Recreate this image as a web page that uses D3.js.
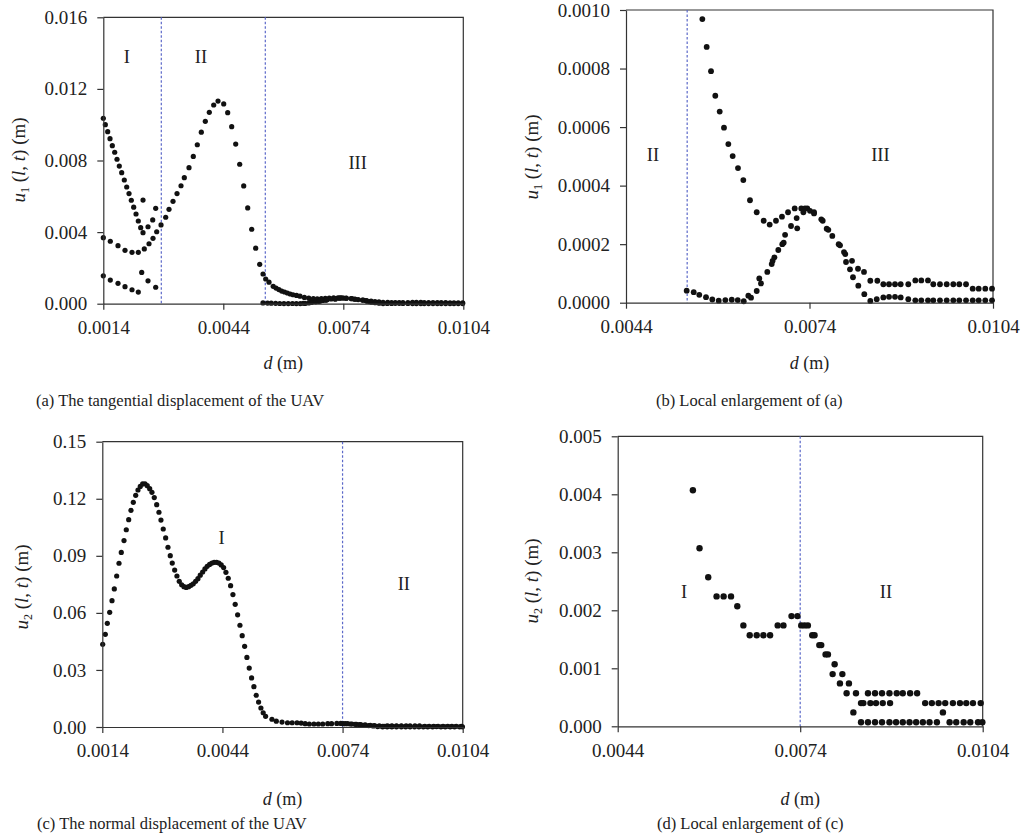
<!DOCTYPE html>
<html>
<head>
<meta charset="utf-8">
<script src="https://cdn.jsdelivr.net/npm/d3@7"></script>
<style>
  body { margin: 0; background: #fff; }
  svg text { font-family: "Liberation Serif", "Times New Roman", serif; fill: #222; }
</style>
</head>
<body>
<div id="chart"></div>
<script>
// u1(l,t) vs d, one array per branch of dots
// [d (m), u1 (m)]
var u1Top = [[0.0014,0.01036],[0.00145,0.0100],[0.00151,0.00961],[0.001568,0.00922],[0.001625,0.00883],
  [0.001685,0.00846],[0.001743,0.00807],[0.0018,0.00769],[0.00186,0.00732],[0.001925,0.00691],
  [0.001985,0.00652],[0.002043,0.00615],[0.0021,0.00578],[0.00216,0.00539],[0.002218,0.00501],
  [0.002275,0.00462],[0.002335,0.00425],[0.002393,0.00397]];
var u1Jump = [[0.002393,0.00579],[0.002518,0.0043],[0.002635,0.00468],[0.00271,0.00533]];
var u1Low = [[0.0014,0.00156],[0.001575,0.00132],[0.001768,0.00114],[0.001943,0.00095],[0.002118,0.00078],
  [0.002275,0.00065],[0.00236,0.00175],[0.002518,0.00128],[0.00271,0.00092]];
var u1Hump = [[0.0014,0.00369],[0.001575,0.00349],[0.001768,0.00324],[0.001943,0.00298],[0.002118,0.00287],
  [0.002275,0.00287],[0.002425,0.00306],[0.002543,0.00335],[0.002643,0.00365],[0.002735,0.00402],
  [0.002843,0.0044],[0.00296,0.00483],[0.003043,0.00527],[0.003143,0.00572],[0.003243,0.00615],
  [0.003343,0.00659],[0.003425,0.00704],[0.003543,0.0076],[0.00365,0.00823],[0.00375,0.00888],
  [0.00385,0.00958],[0.00395,0.01019],[0.00405,0.01069],[0.00416,0.0111],[0.004268,0.01132],
  [0.00441,0.01116],[0.00451,0.01067],[0.00461,0.00989],[0.00471,0.00892],[0.00481,0.00779],
  [0.00491,0.00658],[0.00501,0.00535],[0.00511,0.00416],[0.00521,0.0031],[0.00531,0.0022]];
var u1TailUp = [[0.005393,0.00166],[0.00546,0.00138],[0.005543,0.0012],
  [0.005648,0.000969],[0.005719,0.000874],[0.00579,0.000791],[0.00586,0.000707],[0.005932,0.000653],
  [0.006002,0.000598],[0.006073,0.000542],[0.006144,0.000501],[0.006231,0.00046],[0.006318,0.000419],
  [0.006427,0.00035],[0.006537,0.000309],[0.006651,0.00028],[0.006749,0.000267],[0.006852,0.00028],
  [0.00695,0.000294],[0.007049,0.000309],[0.007158,0.000322],[0.007266,0.000322],[0.007364,0.000322],
  [0.007474,0.000309],[0.007593,0.000285],[0.007681,0.000253],[0.007773,0.000228],[0.007877,0.0002],
  [0.007964,0.000173],[0.008095,0.000143],[0.008193,0.000116],[0.008291,0.000105],[0.008394,0.000075],
  [0.008509,0.000075],[0.008607,0.000063],[0.0087,0.000063],[0.008798,0.000063],[0.008891,0.000063],
  [0.009015,0.000063],[0.00913,0.000076],[0.009228,0.000076],[0.009337,0.000076],[0.009424,0.000063],
  [0.009533,0.000063],[0.009643,0.000063],[0.009751,0.000063],[0.009849,0.000063],[0.009959,0.000063],
  [0.010068,0.000048],[0.010166,0.000048],[0.010274,0.000048],[0.010384,0.000048]];
var u1TailLow = [[0.005392,0.000041],[0.005507,0.000036],[0.005598,0.000027],[0.005708,0.000019],
  [0.005811,0.000011],[0.005916,0.000007],[0.006024,0.000009],[0.006129,0.00001],[0.006227,0.000009],
  [0.006325,0.000005],[0.0064,0.000024],[0.006444,0.000017],[0.006537,0.00004],[0.006579,0.000083],
  [0.006607,0.000066],[0.00671,0.000105],[0.006782,0.000132],[0.006797,0.000143],[0.006826,0.000155],
  [0.00689,0.00018],[0.006955,0.0002],[0.006978,0.000205],[0.007001,0.000232],[0.007098,0.000262],
  [0.00719,0.000289],[0.007199,0.000254],[0.0073,0.000309],[0.007326,0.000322],[0.007408,0.000314],
  [0.007474,0.000305],[0.007616,0.00028],[0.007708,0.000249],[0.007899,0.000196],[0.007985,0.000166],
  [0.007997,0.000139],[0.008062,0.000114],[0.008111,0.000087],[0.008198,0.000058],[0.008296,0.000029],
  [0.008394,0.000006],[0.008499,0.000012],[0.008607,0.000018],[0.0087,0.00002],[0.008798,0.00002],
  [0.008891,0.000018],[0.009015,0.000012],[0.00913,0.000008],[0.009228,0.000008],[0.009337,0.000008],
  [0.009424,0.000008],[0.009533,0.000008],[0.009643,0.000008],[0.009751,0.000008],[0.009849,0.000008],
  [0.009959,0.000008],[0.010068,0.000008],[0.010166,0.000008],[0.010274,0.000008],[0.010384,0.000008]];

// u2(l,t) vs d  [d (m), u2 (m)]
var u2Main = [[0.00141,0.0435],[0.001475,0.0487],[0.001525,0.0545],[0.001585,0.0603],[0.001642,0.0664],
  [0.0017,0.0726],[0.001759,0.0794],[0.001817,0.0861],[0.001874,0.0918],[0.001942,0.098],
  [0.001999,0.1037],[0.002059,0.109],[0.002116,0.1139],[0.002174,0.1181],[0.002234,0.1218],
  [0.002291,0.1246],[0.002348,0.1265],[0.002408,0.1278],[0.002466,0.1279],[0.002523,0.1269],
  [0.002583,0.1253],[0.00264,0.1234],[0.002698,0.1206],[0.002758,0.1169],[0.002815,0.1129],
  [0.002865,0.1088],[0.002922,0.1041],[0.002982,0.0994],[0.00304,0.0945],[0.003097,0.0901],
  [0.003147,0.0862],[0.003207,0.0825],[0.003264,0.0794],[0.003322,0.0766],[0.003382,0.0748],
  [0.003439,0.0738],[0.003496,0.0734],[0.003556,0.0738],[0.003614,0.0745],[0.003671,0.0753],
  [0.003731,0.0766],[0.003788,0.078],[0.003846,0.0798],[0.003906,0.0815],[0.003963,0.0831],
  [0.00402,0.0845],[0.00408,0.0855],[0.004138,0.0862],[0.004195,0.0866],[0.004255,0.0866],
  [0.004312,0.0862],[0.00437,0.0852],[0.00443,0.0838],[0.004487,0.0813],[0.004545,0.0782],
  [0.004604,0.0743],[0.004662,0.0696],[0.004719,0.0645],[0.004779,0.059],[0.004837,0.0535],
  [0.004894,0.048],[0.004954,0.0424],[0.005011,0.0366],[0.005069,0.031],[0.005128,0.0258],
  [0.005186,0.0212],[0.005243,0.0167],[0.005303,0.0131],[0.005361,0.0100],[0.005418,0.0075],
  [0.005478,0.0056]];
var u2Tail = [[0.005636,0.00407],[0.005745,0.00307],[0.005888,0.00257],[0.006025,0.00224],[0.006141,0.00224],
  [0.006263,0.00224],[0.006366,0.00207],[0.006466,0.00174],[0.00657,0.00157],[0.006685,0.00157],
  [0.006795,0.00157],[0.006905,0.00157],[0.00703,0.00174],[0.007125,0.00174],[0.007257,0.0019],
  [0.007355,0.0019],[0.007417,0.00174],[0.007471,0.00174],[0.007526,0.00174],[0.007598,0.00157],
  [0.007636,0.00157],[0.007714,0.0014],[0.007746,0.0014],[0.007817,0.00124],[0.007856,0.00124],
  [0.007933,0.0009],[0.007966,0.00107],[0.008053,0.00074],[0.008093,0.0009],[0.008163,0.00057],
  [0.008201,0.00074],[0.008274,0.00024],[0.008317,0.00057]];
var u2RowHigh = [[0.008514,0.00057],[0.00863,0.00057],[0.008745,0.00057],[0.008867,0.00057],
  [0.008987,0.00057],[0.009086,0.00057],[0.009207,0.00057],[0.009322,0.00057]];
var u2RowMid = [[0.0084,0.0004],[0.008438,0.0004],[0.008554,0.0004],[0.008646,0.0004],[0.008757,0.0004],
  [0.008877,0.0004],[0.009454,0.0004],[0.009564,0.0004],[0.009675,0.0004],[0.009784,0.0004],
  [0.00991,0.0004],[0.010026,0.0004],[0.01013,0.0004],[0.01024,0.0004],[0.010367,0.0004],[0.009746,0.00024]];
var u2RowLow = [[0.0084,0.00007],[0.008514,0.00007],[0.00863,0.00007],[0.008745,0.00007],[0.008867,0.00007],
  [0.008976,0.00007],[0.009086,0.00007],[0.009197,0.00007],[0.009306,0.00007],[0.009416,0.00007],
  [0.009526,0.00007],[0.009647,0.00007],[0.009856,0.00007],[0.009965,0.00007],[0.010087,0.00007],
  [0.010196,0.00007],[0.010323,0.00007],[0.010394,0.00007]];

var xTicksFull = [0.0014, 0.0044, 0.0074, 0.0104];
var xTicksZoom = [0.0044, 0.0074, 0.0104];
var yTicksA = [0, 0.004, 0.008, 0.012, 0.016];
var yTicksB = [0, 0.0002, 0.0004, 0.0006, 0.0008, 0.0010];
var yTicksC = [0, 0.03, 0.06, 0.09, 0.12, 0.15];
var yTicksD = [0, 0.001, 0.002, 0.003, 0.004, 0.005];

var u1All = [u1Top, u1Jump, u1Low, u1Hump, u1TailUp, u1TailLow];
var u2All = [u2Main, u2Tail, u2RowHigh, u2RowMid, u2RowLow];

var svg = d3.select("#chart").append("svg")
  .attr("width", 1024)
  .attr("height", 835);

svg.append("rect").attr("width", 1024).attr("height", 835).attr("fill", "#fff");

function drawPanel(p) {
  var g = svg.append("g");
  var x = d3.scaleLinear().domain(p.xDomain).range([p.left, p.right]);
  var y = d3.scaleLinear().domain([p.yTicks[0], p.yTicks[p.yTicks.length - 1]]).range([p.bottom, p.top]);

  // box: top and right edges
  g.append("path")
    .attr("d", "M" + p.left + "," + p.top + "H" + p.right + "V" + p.bottom)
    .attr("fill", "none")
    .attr("stroke", "#333")
    .attr("stroke-width", 1.2);

  // region boundaries
  g.selectAll(".divider")
    .data(p.dividers)
    .enter()
    .append("line")
    .attr("x1", d => x(d)).attr("x2", d => x(d))
    .attr("y1", p.top).attr("y2", p.bottom)
    .attr("stroke", "#5b68c9")
    .attr("stroke-width", 1.2)
    .attr("stroke-dasharray", "2.5,2");

  // dots, only the ones inside this panel's window
  var yMax = y.domain()[1];
  p.series.forEach(function(s) {
    var pts = s.filter(d => d[0] >= p.xDomain[0] - 1e-7 && d[0] <= p.xDomain[1] + 1e-7 && d[1] <= yMax);
    g.selectAll(null)
      .data(pts)
      .enter()
      .append("circle")
      .attr("cx", d => x(d[0]))
      .attr("cy", d => y(d[1]))
      .attr("r", p.r)
      .attr("fill", "#111");
  });

  var xAxis = g.append("g")
    .attr("transform", "translate(0," + p.bottom + ")")
    .call(d3.axisBottom(x).tickValues(p.xTicks).tickFormat(d3.format(".4f"))
      .tickSize(6).tickSizeOuter(0).tickPadding(11));
  var yAxis = g.append("g")
    .attr("transform", "translate(" + p.left + ",0)")
    .call(d3.axisLeft(y).tickValues(p.yTicks).tickFormat(d3.format(p.yFormat))
      .tickSize(6).tickSizeOuter(0).tickPadding(10));
  [xAxis, yAxis].forEach(function(a) {
    a.select(".domain").attr("stroke", "#333").attr("stroke-width", 1.2);
    a.selectAll(".tick line").attr("stroke", "#333").attr("stroke-width", 1.2);
    a.selectAll(".tick text")
      .style("font-family", '"Liberation Serif", serif')
      .style("font-size", "19px")
      .attr("fill", "#222");
  });

  // region numerals
  g.selectAll(".region")
    .data(p.regions)
    .enter()
    .append("text")
    .attr("x", d => x(d.d))
    .attr("y", d => y(d.u))
    .attr("text-anchor", "middle")
    .attr("dominant-baseline", "central")
    .style("font-size", "18.5px")
    .text(d => d.label);

  // x title
  var xt = g.append("text")
    .attr("x", (p.left + p.right) / 2)
    .attr("y", p.xTitleY)
    .attr("text-anchor", "middle")
    .style("font-size", "18px");
  xt.append("tspan").attr("font-style", "italic").text("d");
  xt.append("tspan").text(" (m)");

  // y title
  var yt = g.append("text")
    .attr("transform", "translate(" + p.yTitleX + "," + p.yTitleY + ") rotate(-90)")
    .attr("text-anchor", "middle")
    .style("font-size", "19px");
  yt.append("tspan").attr("font-style", "italic").text("u");
  yt.append("tspan").attr("dy", 4).style("font-size", "12px").text(p.sub);
  yt.append("tspan").attr("dy", -4).text(" (");
  yt.append("tspan").attr("font-style", "italic").text("l");
  yt.append("tspan").text(", ");
  yt.append("tspan").attr("font-style", "italic").text("t");
  yt.append("tspan").text(") (m)");

  // caption
  g.append("text")
    .attr("x", p.capX)
    .attr("y", p.capY)
    .style("font-size", "16.5px")
    .text(p.caption);
}

drawPanel({
  left: 103.3, right: 463.3, top: 17.3, bottom: 303.7,
  xDomain: [0.0014, 0.0104], xTicks: xTicksFull, yTicks: yTicksA, yFormat: ".3f",
  dividers: [0.00285, 0.00545], series: u1All, r: 2.6,
  regions: [{label: "I", d: 0.00199, u: 0.0138}, {label: "II", d: 0.00384, u: 0.0138},
            {label: "III", d: 0.00776, u: 0.00784}],
  xTitleY: 369, yTitleX: 25, yTitleY: 160, sub: "1",
  caption: "(a) The tangential displacement of the UAV", capX: 36, capY: 406
});

drawPanel({
  left: 626, right: 993, top: 10, bottom: 302.7,
  xDomain: [0.0044, 0.0104], xTicks: xTicksZoom, yTicks: yTicksB, yFormat: ".4f",
  dividers: [0.0054], series: u1All, r: 2.9,
  regions: [{label: "II", d: 0.00484, u: 0.000504}, {label: "III", d: 0.00856, u: 0.000504}],
  xTitleY: 369, yTitleX: 538, yTitleY: 157, sub: "1",
  caption: "(b) Local enlargement of (a)", capX: 656, capY: 406
});

drawPanel({
  left: 102.3, right: 462.7, top: 441.7, bottom: 727,
  xDomain: [0.0014, 0.0104], xTicks: xTicksFull, yTicks: yTicksC, yFormat: ".2f",
  dividers: [0.0074], series: u2All, r: 2.6,
  regions: [{label: "I", d: 0.00438, u: 0.0992}, {label: "II", d: 0.00893, u: 0.075}],
  xTitleY: 805, yTitleX: 28, yTitleY: 587, sub: "2",
  caption: "(c) The normal displacement of the UAV", capX: 37, capY: 829
});

drawPanel({
  left: 617.7, right: 982.7, top: 436.3, bottom: 726.3,
  xDomain: [0.0044, 0.0104], xTicks: xTicksZoom, yTicks: yTicksD, yFormat: ".3f",
  dividers: [0.0074], series: u2All, r: 3.2,
  regions: [{label: "I", d: 0.00549, u: 0.00232}, {label: "II", d: 0.00881, u: 0.00232}],
  xTitleY: 805, yTitleX: 538, yTitleY: 581, sub: "2",
  caption: "(d) Local enlargement of (c)", capX: 657, capY: 829
});
</script>
</body>
</html>
